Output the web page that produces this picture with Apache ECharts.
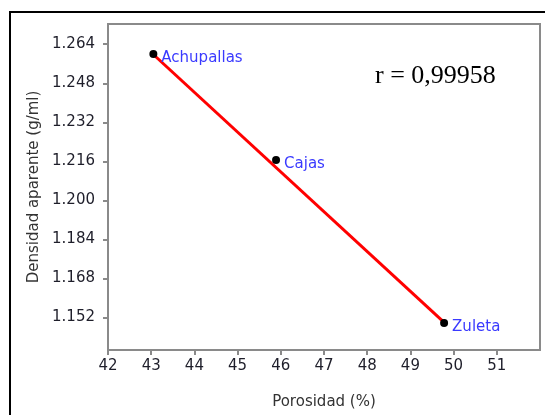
<!DOCTYPE html>
<html>
<head>
<meta charset="utf-8">
<script src="https://cdn.jsdelivr.net/npm/echarts@6/dist/echarts.min.js"></script>
<style>
  html, body { margin: 0; padding: 0; background: #fff; }
  #chart { width: 545px; height: 415px; }
</style>
</head>
<body>
<div id="chart"></div>
<script>
// Sample sites: porosity (%) vs apparent density (g/ml)
const sites = ['Achupallas', 'Cajas', 'Zuleta'];
const porosity = [43.05, 45.89, 49.78];
const density = [1.2600, 1.2165, 1.1497];

// Fitted regression line end points
const fitX = [43.05, 49.78];
const fitY = [1.2598, 1.1499];

const xTicks = [42, 43, 44, 45, 46, 47, 48, 49, 50, 51];
const yTicks = [1.152, 1.168, 1.184, 1.200, 1.216, 1.232, 1.248, 1.264];

const corrText = 'r = 0,99958';

const chart = echarts.init(document.getElementById('chart'), null, { renderer: 'canvas' });

const labelFont = 'DejaVu Sans';
const axisGray = '#8a8a8a';

chart.setOption({
  animation: false,
  backgroundColor: '#fff',
  grid: {
    left: 108, top: 24, right: 5, bottom: 64,
    show: true, borderColor: axisGray, borderWidth: 2, backgroundColor: '#fff'
  },
  xAxis: {
    type: 'value',
    min: 42, max: 52,
    name: 'Porosidad (%)',
    nameLocation: 'middle',
    nameGap: 45,
    nameTextStyle: { fontFamily: labelFont, fontSize: 15, color: '#333' },
    axisLine: { show: true, onZero: false, lineStyle: { color: axisGray, width: 2 } },
    axisTick: { show: true, length: 5, lineStyle: { color: axisGray, width: 2 }, customValues: xTicks },
    axisLabel: { fontFamily: labelFont, fontSize: 15, color: '#1e1e2a', margin: 9, customValues: xTicks },
    splitLine: { show: false }
  },
  yAxis: {
    type: 'value',
    min: 1.1386, max: 1.2723,
    name: 'Densidad aparente (g/ml)',
    nameLocation: 'middle',
    nameGap: 61,
    nameTextStyle: { fontFamily: labelFont, fontSize: 15, color: '#333' },
    axisLine: { show: true, onZero: false, lineStyle: { color: axisGray, width: 2 } },
    axisTick: { show: true, length: 5, lineStyle: { color: axisGray, width: 2 }, customValues: yTicks },
    axisLabel: {
      fontFamily: labelFont, fontSize: 15, color: '#1e1e2a', margin: 13,
      customValues: yTicks,
      formatter: v => v.toFixed(3)
    },
    splitLine: { show: false }
  },
  series: [
    {
      type: 'line',
      data: fitX.map((x, i) => [x, fitY[i]]),
      symbol: 'none',
      lineStyle: { color: '#ff0000', width: 3 },
      z: 2
    },
    {
      type: 'scatter',
      data: porosity.map((x, i) => ({ value: [x, density[i]], name: sites[i] })),
      symbolSize: 8,
      itemStyle: { color: '#000', opacity: 1 },
      label: {
        show: true,
        position: 'right',
        distance: 4,
        offset: [0, 4],
        formatter: p => p.name,
        fontFamily: labelFont,
        fontSize: 15,
        color: '#3a3aff'
      },
      z: 3
    }
  ],
  graphic: [
    {
      type: 'polyline',
      shape: { points: [[546, 12], [10, 12], [10, 416]] },
      style: { stroke: '#000', lineWidth: 2, fill: null },
      z: 10
    },
    {
      type: 'text',
      x: 375, y: 76,
      style: {
        text: corrText,
        font: '26px "Liberation Serif"',
        fill: '#000',
        verticalAlign: 'middle',
        align: 'left'
      },
      z: 10
    }
  ]
});
</script>
</body>
</html>
